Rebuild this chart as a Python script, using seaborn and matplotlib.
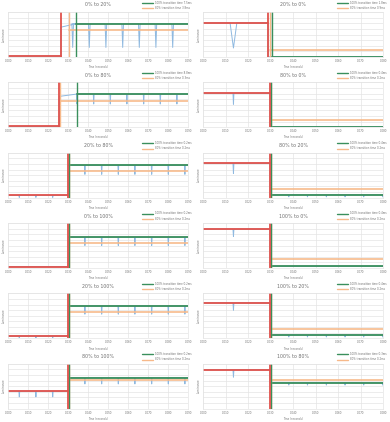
import numpy as np
import pandas as pd
import matplotlib
matplotlib.use("Agg")
import matplotlib.pyplot as plt
import seaborn as sns

sns.set_theme(style="white")
plt.rcParams['font.family'] = ['DejaVu Sans']

# ---------------- data ----------------
titles = ["0% to 20%", "20% to 0%", "0% to 80%", "80% to 0%",
          "20% to 80%", "80% to 20%", "0% to 100%", "100% to 0%",
          "20% to 100%", "100% to 20%", "80% to 100%", "100% to 80%"]
time_100_ms = [7.5, 1.8, 8.8, 0.4, 0.2, 0.4, 0.2, 0.4, 0.2, 0.4, 0.2, 0.3]
time_80_ms = [3.8, 0.9, 0.3, 0.2, 0.2, 0.2, 0.2, 0.2, 0.2, 0.2, 0.2, 0.2]
x_max = [0.09, 0.08] * 6
step_time = [0.0263, 0.0288, 0.0255, 0.0297, 0.030, 0.0297,
             0.030, 0.0297, 0.030, 0.0297, 0.030, 0.0297]
start_level = [0.16, 6.05, 0.16, 6.05, 0.4, 6.1, 0.25, 6.9, 0.4, 6.3, 3.1, 6.9]
end_level = [5.92, 0.05, 5.92, 0.08, 5.75, 0.5, 5.45, 0.3, 5.75, 0.6, 5.5, 4.6]
first_level = [5.3, 0.05, 5.5, 0.08, 5.75, 0.5, 5.45, 0.3, 5.75, 0.6, 5.5, 4.6]
pre_dip_times = [[], [0.0134], [], [0.0134], [0.0055, 0.0138, 0.0222], [0.0134],
                 [], [0.0134], [0.0055, 0.0138, 0.0222], [0.0134],
                 [0.0055, 0.0138, 0.0222], [0.0134]]
pre_dip_bottom = [0, 1.6, 0, 4.1, 0.05, 4.3, 0, 5.6, 0.05, 5.0, 2.1, 5.6]
post_dip_times = [[0.0322, 0.0405, 0.0488, 0.0572, 0.0655, 0.0738, 0.0822],
                  [],
                  [0.0343, 0.0427, 0.051, 0.0593, 0.0677, 0.076, 0.0843],
                  [],
                  [0.0383, 0.0467, 0.055, 0.0633, 0.0717, 0.08, 0.0883],
                  [0.038, 0.0463, 0.0547, 0.063, 0.0713, 0.0797],
                  [0.0383, 0.0467, 0.055, 0.0633, 0.0717, 0.08, 0.0883],
                  [],
                  [0.0383, 0.0467, 0.055, 0.0633, 0.0717, 0.08, 0.0883],
                  [0.038, 0.0463, 0.0547, 0.063, 0.0713, 0.0797],
                  [0.0383, 0.0467, 0.055, 0.0633, 0.0717, 0.08, 0.0883],
                  [0.038, 0.0463, 0.0547, 0.063, 0.0713, 0.0797]]
post_dip_bottom = [1.7, 0, 4.15, 0, 4.15, 0.15, 4.0, 0, 4.3, 0.25, 4.4, 4.2]
dip_half_width = [0.0004, 0.0015, 0.0002, 0.0002, 0.0002, 0.0002,
                  0.0002, 0.0002, 0.0002, 0.0002, 0.0002, 0.0002]

RED = "#e0524c"
GREEN = "#3a8f5c"
ORANGE = "#f7b98a"
BLUE = "#8fb9e0"
GRID = "#e4e4e4"
TXT = "#707070"

W, H = 390, 422
fig = plt.figure(figsize=(W / 100, H / 100), dpi=100)
fig.patch.set_facecolor("white")
row_h = H / 6.0

for i, title in enumerate(titles):
    r, c = divmod(i, 2)
    left_px = c * 195 + 8.3
    top_px = r * row_h + 12
    ax = fig.add_axes([left_px / W, 1 - (top_px + 45) / H, 180 / W, 45 / H])

    s, e, f = start_level[i], end_level[i], first_level[i]
    ts = step_time[i]
    t100 = ts + time_100_ms[i] / 1000.0
    t80 = ts + time_80_ms[i] / 1000.0
    xm = x_max[i]
    hw = dip_half_width[i]

    # measured trace
    pts = [(0.0, s)]
    for td in pre_dip_times[i]:
        pts += [(td - hw, s), (td, pre_dip_bottom[i]), (td + hw, s)]
    pts += [(ts, s), (ts, f), (t100, e)]
    for td in post_dip_times[i]:
        pts += [(td - hw, e), (td, post_dip_bottom[i]), (td + hw, e)]
    pts += [(xm, e)]
    trace = pd.DataFrame(pts, columns=["time", "lum"])
    sns.lineplot(data=trace, x="time", y="lum", ax=ax, color=BLUE, lw=0.7,
                 sort=False, estimator=None, legend=False)

    lvl80 = s + 0.8 * (e - s)
    # reference lines
    ax.plot([t80, xm], [lvl80, lvl80], color=ORANGE, lw=1.3, alpha=0.9)
    ax.plot([t100, xm], [e, e], color=GREEN, lw=1.3)
    ax.plot([0, ts], [s, s], color=RED, lw=1.3)
    ax.axvline(t80, color=ORANGE, lw=1.0)
    ax.axvline(t100, color=GREEN, lw=1.0)
    ax.axvline(ts, color=RED, lw=1.3)
    # legend handles
    ax.plot([], [], color=GREEN, lw=1.0, label=f"100% transition time {time_100_ms[i]}ms")
    ax.plot([], [], color=ORANGE, lw=1.0, label=f"80% transition time {time_80_ms[i]}ms")

    ax.set_xlim(0, xm)
    ax.set_ylim(0, 8)
    ticks = np.arange(0, xm + 1e-9, 0.01)
    ax.set_xticks(ticks)
    ax.set_xticklabels([f"{v:.3f}" for v in ticks])
    ax.set_yticks(np.arange(0, 8.01, 1))
    ax.set_yticklabels([])
    ax.tick_params(axis="x", labelsize=1.9, colors=TXT, length=0, pad=1.5)
    ax.tick_params(axis="y", length=0)
    ax.grid(True, color=GRID, lw=0.5)
    for sp in ax.spines.values():
        sp.set_color(GRID)
        sp.set_linewidth(0.5)
    ax.set_xlabel("Time (seconds)", fontsize=1.9, color=TXT, labelpad=1.5)
    ax.set_ylabel("Luminance", fontsize=1.9, color=TXT)
    ax.yaxis.set_label_coords(-2.5 / 180, 0.5)
    ax.text(0.5, 1 + 7 / 45, title, transform=ax.transAxes, ha="center",
            va="center", fontsize=3.4, color=TXT)
    leg = ax.legend(loc="upper right", bbox_to_anchor=(1.0 + 3 / 180, 1 + 11.5 / 45),
                    fontsize=1.9, frameon=False, handlelength=4, handletextpad=0.8,
                    borderpad=0, labelspacing=0.5, borderaxespad=0)
    for t in leg.get_texts():
        t.set_color(TXT)

fig.savefig("out.png", dpi=100, facecolor="white")
